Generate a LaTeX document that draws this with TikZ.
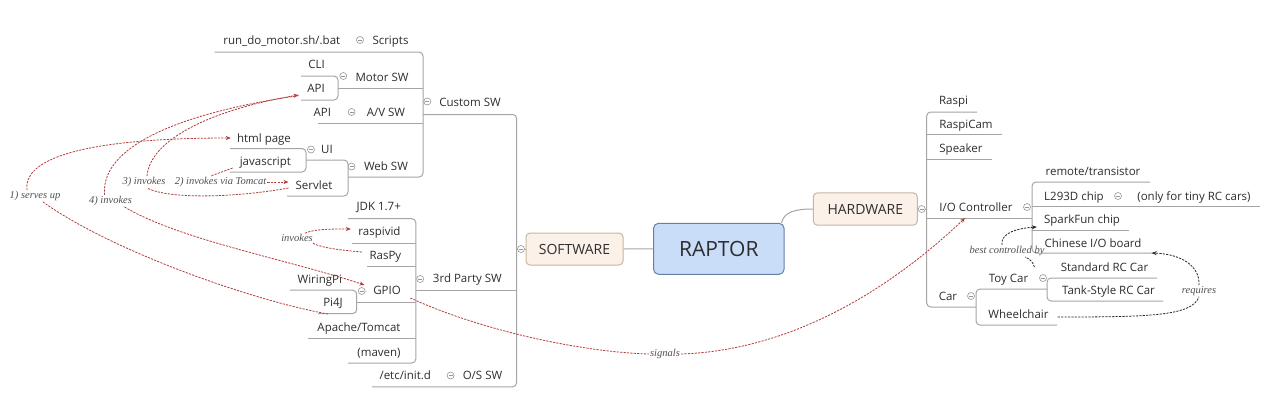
\documentclass[tikz,border=0pt]{standalone}
\usepackage{fontspec}
\setmainfont{Open Sans}
\newfontfamily\relfont{Liberation Serif}
\usetikzlibrary{arrows.meta}
\definecolor{txt}{RGB}{45,45,45}
\definecolor{linegray}{RGB}{165,165,165}
\definecolor{colgray}{RGB}{150,150,150}
\definecolor{labgray}{RGB}{80,80,80}
\definecolor{relred}{RGB}{180,60,60}
\definecolor{mainfill}{RGB}{201,221,248}
\definecolor{mainborder}{RGB}{100,128,170}
\definecolor{subfill}{RGB}{252,241,232}
\definecolor{subborder}{RGB}{200,182,162}
\newcommand\tsz{\fontsize{11.5}{13}\selectfont}
\newcommand\relsz{\relfont\itshape\fontsize{10.5}{12}\selectfont}
\tikzset{
 tx/.style={font=\tsz, text=txt, inner sep=0pt, text height=8.5pt, text depth=0pt},
 lab/.style={font=\relsz, text=labgray, inner sep=1pt},
 treeline/.style={draw=linegray, line width=1pt, rounded corners=4pt},
 colps/.style={circle, draw=colgray, fill=white, line width=0.6pt, minimum size=7pt, inner sep=0pt,
   path picture={\draw[colgray, line width=0.6pt] ([xshift=-2pt]path picture bounding box.center) -- ([xshift=2pt]path picture bounding box.center);}},
 relline/.style={draw=relred, line width=0.8pt, dash pattern=on 2.2pt off 1.2pt},
 rellineb/.style={draw=black!85, line width=0.8pt, dash pattern=on 2.2pt off 1.2pt},
 arr/.style={-{Stealth[length=5pt,width=4pt]}},
 mainbox/.style={draw=mainborder, fill=mainfill, line width=1pt, rounded corners=5pt, text=txt, font=\fontsize{21}{24}\selectfont, inner sep=0pt},
 subbox/.style={draw=subborder, fill=subfill, line width=1pt, rounded corners=4pt, text=txt, font=\fontsize{14}{16}\selectfont, inner sep=0pt}
}
\begin{document}
\begin{tikzpicture}[x=1pt,y=-1pt]
\useasboundingbox[fill=white] (0,0) rectangle (1268,408);

% ---------- tree lines, software side ----------
\draw[treeline] (214.7,52) -- (423,52) -- (423,177) -- (348,177);
\draw[treeline] (338,88) -- (423,88);
\draw[treeline] (301,76) -- (338,76) -- (338,100) -- (301,100);
\draw[treeline] (317.8,123.5) -- (423,123.5);
\draw[treeline] (287,196) -- (348,196) -- (348,160) -- (306,160);
\draw[treeline] (230,148.5) -- (306,148.5) -- (306,172) -- (230,172);
\draw[treeline] (423,114.5) -- (516.6,114.5) -- (516.6,386.8) -- (372,386.8);
\draw[treeline] (415.8,290) -- (516.6,290);
\draw[treeline] (348,218.7) -- (415.8,218.7) -- (415.8,363) -- (348,363);
\draw[treeline] (351.6,243) -- (415.8,243);
\draw[treeline] (366.8,266.7) -- (415.8,266.7);
\draw[treeline] (356.7,302) -- (415.8,302);
\draw[treeline] (308.3,338.7) -- (415.8,338.7);
\draw[treeline] (290,290.2) -- (356.7,290.2) -- (356.7,313.5) -- (318,313.5);

% ---------- tree lines, hardware side ----------
\draw[treeline] (977,112) -- (926.7,112) -- (926.7,307) -- (976,307);
\draw[treeline] (926.7,134) -- (1002,134);
\draw[treeline] (926.7,159) -- (992,159);
\draw[treeline] (926.7,218) -- (1032,218);
\draw[treeline] (1150,182) -- (1032,182) -- (1032,253) -- (1153,253);
\draw[treeline] (1032,206) -- (1260,206);
\draw[treeline] (1032,230) -- (1129,230);
\draw[treeline] (1047,289) -- (976,289) -- (976,325) -- (1057,325);
\draw[treeline] (1157,278) -- (1047,278) -- (1047,301) -- (1163,301);

% ---------- central boxes ----------
\node[mainbox, minimum width=130.5pt, minimum height=51pt] (raptor) at (718.8,248.8) {RAPTOR};
\node[subbox, minimum width=97pt, minimum height=32pt] (software) at (574.5,249) {SOFTWARE};
\node[subbox, minimum width=104pt, minimum height=32.3pt] (hardware) at (865.3,209) {HARDWARE};
\draw[treeline] (software.east) -- (raptor.west);
\draw[treeline] (software.west) -- (516.6,249);
\draw[treeline] (hardware.east) -- (926.7,209);
\draw[draw=linegray, line width=1pt] ([xshift=-3pt]raptor.north east) .. controls (784,212) and (795,209) .. (hardware.west);

% ---------- collapse circles ----------
\node[colps] (c1) at (360,40) {};
\node[colps] (c2) at (343.3,76) {};
\node[colps] (c3) at (351.6,112) {};
\node[colps] (c4) at (427.3,101.5) {};
\node[colps] (c5) at (311,149.5) {};
\node[colps] (c6) at (351.6,166.5) {};
\node[colps] (c7) at (361.7,291) {};
\node[colps] (c8) at (420.2,279) {};
\node[colps] (c9) at (450.6,375.5) {};
\node[colps] (c10) at (521,249) {};
\node[colps] (c11) at (921.7,209) {};
\node[colps] (c12) at (1027,207) {};
\node[colps] (c13) at (1118,196) {};
\node[colps] (c14) at (971,296) {};
\node[colps] (c15) at (1043,278) {};

% ---------- topic texts, software side ----------
\node[tx] (runmotor) at (281.8,40) {run\_do\_motor.sh/.bat};
\node[tx] (scripts) at (390.5,40) {Scripts};
\node[tx] (cli) at (316.6,64) {CLI};
\node[tx] (motorapi) at (316,88.6) {API};
\node[tx] (motor) at (382,77) {Motor SW};
\node[tx] (avapi) at (322.3,112) {API};
\node[tx] (av) at (386,112) {A/V SW};
\node[tx] (custom) at (470,102) {Custom SW};
\node[tx] (html) at (264,138) {html page};
\node[tx] (ui) at (327,149) {UI};
\node[tx] (js) at (265.4,161) {javascript};
\node[tx] (web) at (386,166) {Web SW};
\node[tx] (servlet) at (314,185) {Servlet};
\node[tx] (jdk) at (378.7,206) {JDK 1.7+};
\node[tx] (raspivid) at (379.5,231) {raspivid};
\node[tx] (raspy) at (385.4,255) {RasPy};
\node[tx] (gpio) at (387,290) {GPIO};
\node[tx] (wiringpi) at (319.8,279) {WiringPi};
\node[tx] (pi4j) at (333,302) {Pi4J};
\node[tx] (apache) at (359,327) {Apache/Tomcat};
\node[tx] (maven) at (379,352) {(maven)};
\node[tx] (third) at (467.4,278) {3rd Party SW};
\node[tx] (etc) at (405.3,375) {/etc/init.d};
\node[tx] (os) at (482.5,375) {O/S SW};

% ---------- topic texts, hardware side ----------
\node[tx] (raspi) at (953.5,100) {Raspi};
\node[tx] (raspicam) at (966,124) {RaspiCam};
\node[tx] (speaker) at (961,148) {Speaker};
\node[tx] (io) at (976,207) {I/O Controller};
\node[tx] (remote) at (1093,171) {remote/transistor};
\node[tx] (l293) at (1074,196) {L293D chip};
\node[tx] (tiny) at (1194,196) {(only for tiny RC cars)};
\node[tx] (sparkfun) at (1082,219) {SparkFun chip};
\node[tx] (chinese) at (1093,243) {Chinese I/O board};
\node[tx] (car) at (948,296) {Car};
\node[tx] (toycar) at (1008.5,278) {Toy Car};
\node[tx] (std) at (1104.5,267) {Standard RC Car};
\node[tx] (tank) at (1108.5,290) {Tank-Style RC Car};
\node[tx] (wheel) at (1018.5,314) {Wheelchair};

% ---------- relationship labels ----------
\node[lab] (l1) at (35,196) {1) serves up};
\node[lab] (l2) at (220.5,182) {2) invokes via Tomcat};
\node[lab] (l3) at (144,182) {3) invokes};
\node[lab] (l4) at (110.5,201) {4) invokes};
\node[lab] (l5) at (297,238) {invokes};
\node[lab] (l6) at (665,354) {signals};
\node[lab] (l7) at (1007,251) {best controlled by};
\node[lab] (l8) at (1199,291) {requires};

% ---------- relationships ----------
% 1) Apache/Tomcat serves up html page
\draw[relline] ([xshift=-31pt,yshift=13pt]apache.center) .. controls (250,300) and (110,250) .. ([xshift=8pt]l1.south);
\draw[relline,arr] ([xshift=-8pt]l1.north) .. controls (22,150) and (120,138) .. ([xshift=-6pt]html.west);
% 2) javascript invokes Servlet via Tomcat
\draw[relline] ([xshift=-7pt,yshift=-7pt]js.west) -- ([xshift=-10pt]l2.north);
\draw[relline,arr] (l2.east) -- ([xshift=-7pt,yshift=3pt]servlet.west);
% 3) Servlet invokes API
\draw[relline] ([xshift=-7pt,yshift=-3pt]servlet.west) .. controls (240,197) and (170,200) .. ([xshift=3pt]l3.south);
\draw[relline,arr] ([xshift=3pt]l3.north) .. controls (150,140) and (210,110) .. ([xshift=-8.6pt,yshift=-6.4pt]motorapi.west);
% 4) API invokes GPIO
\draw[relline] ([xshift=-8.6pt,yshift=-7pt]motorapi.west) .. controls (200,110) and (100,140) .. ([xshift=-6pt]l4.north);
\draw[relline,arr] ([xshift=14pt]l4.south) .. controls (180,240) and (290,260) .. ([xshift=-8.6pt,yshift=5pt]gpio.west);
% RasPy invokes raspivid
\draw[relline] ([xshift=-7.5pt,yshift=3pt]raspy.west) .. controls (340,250) and (322,248) .. ([xshift=-2pt]l5.south east);
\draw[relline,arr] ([xshift=8pt]l5.north) .. controls (315,229) and (330,229) .. ([xshift=-7.4pt,yshift=2pt]raspivid.west);
% GPIO signals I/O Controller
\draw[relline] ([xshift=9.4pt,yshift=-8pt]gpio.east) .. controls (480,330) and (580,352) .. (l6.west);
\draw[relline,arr] (l6.east) .. controls (800,350) and (900,280) .. ([xshift=-11pt,yshift=-11pt]io.center);
% Toy Car best controlled by SparkFun chip
\draw[rellineb] ([xshift=6pt,yshift=11pt]toycar.east) .. controls (1033,262) and (1030,259) .. ([xshift=18pt]l7.south);
\draw[rellineb,arr] ([xshift=-5pt]l7.north) .. controls (1000,232) and (1020,228) .. ([xshift=-7pt,yshift=-8pt]sparkfun.west);
% Wheelchair requires Chinese I/O board
\draw[rellineb] ([xshift=9pt,yshift=-3pt]wheel.east) .. controls (1150,317) and (1192,316) .. (l8.south);
\draw[rellineb,arr] (l8.north) .. controls (1200,265) and (1180,254) .. ([xshift=10pt,yshift=-10pt]chinese.east);
\end{tikzpicture}
\end{document}
